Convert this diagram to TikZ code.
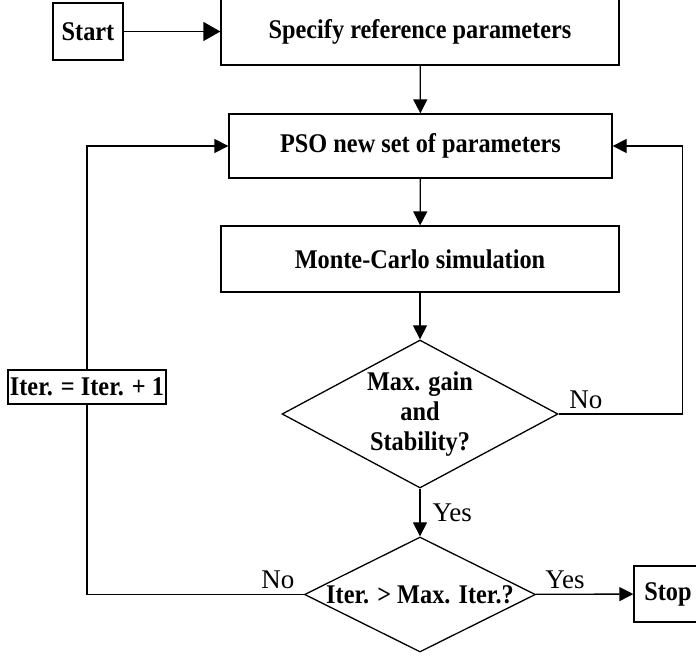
\documentclass[tikz,border=0pt]{standalone}
\usepackage{fontspec}
\setmainfont{Liberation Serif}[BoldFeatures={FakeStretch=0.9}]
\usetikzlibrary{shapes.geometric, arrows.meta}
\tikzstyle{process} = [rectangle, inner sep=1pt, text centered, draw=black, line width=0.65pt, font=\fontsize{13.5}{15}\selectfont\bfseries]
\tikzstyle{decision} = [diamond, inner sep=0pt, draw=black, line width=0.65pt]
\tikzstyle{qtext} = [align=center, inner sep=0pt, font=\fontsize{13.5}{15}\selectfont\bfseries]
\tikzstyle{answer} = [inner sep=2.5pt, font=\fontsize{13.5}{15}\selectfont]
\tikzstyle{line} = [line width=0.65pt]
\tikzstyle{arrow} = [line width=0.65pt, -{Triangle[length=7pt,width=7pt]}]

\begin{document}
\begin{tikzpicture}[x=0.5pt,y=-0.5pt]
\useasboundingbox (0,0) rectangle (696,657);

% boxes
\node[process, minimum width=35pt, minimum height=28.5pt] (start) at (88,31.5) {Start};
\node[process, minimum width=199pt, minimum height=33.5pt] (spec) at (420,31.5) {Specify reference parameters};
\node[process, minimum width=191.5pt, minimum height=32pt] (pso) at (420.5,146) {PSO new set of parameters};
\node[process, minimum width=199pt, minimum height=33pt] (mc) at (420,259) {Monte-Carlo simulation};
\node[process, minimum width=78pt, minimum height=17pt] (iter) at (87,387) {Iter. = Iter. + 1};
\node[process, minimum width=34pt, minimum height=28pt] (stop) at (668,594) {Stop};

% decisions
\node[decision, minimum width=138pt, minimum height=74pt] (gain) at (420,414) {};
\node[qtext] (gaintext) at (gain) {Max. gain\\and\\Stability?};
\node[decision, minimum width=115.5pt, minimum height=57.5pt] (check) at (420,594.5) {};
\node[qtext] (checktext) at (check) {Iter. > Max. Iter.?};

% connectors
\draw[arrow, -{Triangle[length=8.5pt,width=9.5pt]}] (start) -- (spec);
\draw[arrow] (spec) -- (pso);
\draw[arrow] (pso) -- (mc);
\draw[arrow] (mc) -- (gain);
\draw[arrow] (gain) -- node[answer, right=3.5pt]{Yes} (check);
\draw[arrow] (check) -- node[answer, pos=0.3, above]{Yes} (stop);
\draw[arrow] (gain.east) -- node[answer, pos=0.22, above]{No} ++(123.7,0) |- (pso.east);
\draw[line] (check.west) -- node[answer, pos=0.12, above]{No} (check.west -| iter.south) -- (iter.south);
\draw[arrow] (iter.north) |- (pso.west);
\end{tikzpicture}
\end{document}
